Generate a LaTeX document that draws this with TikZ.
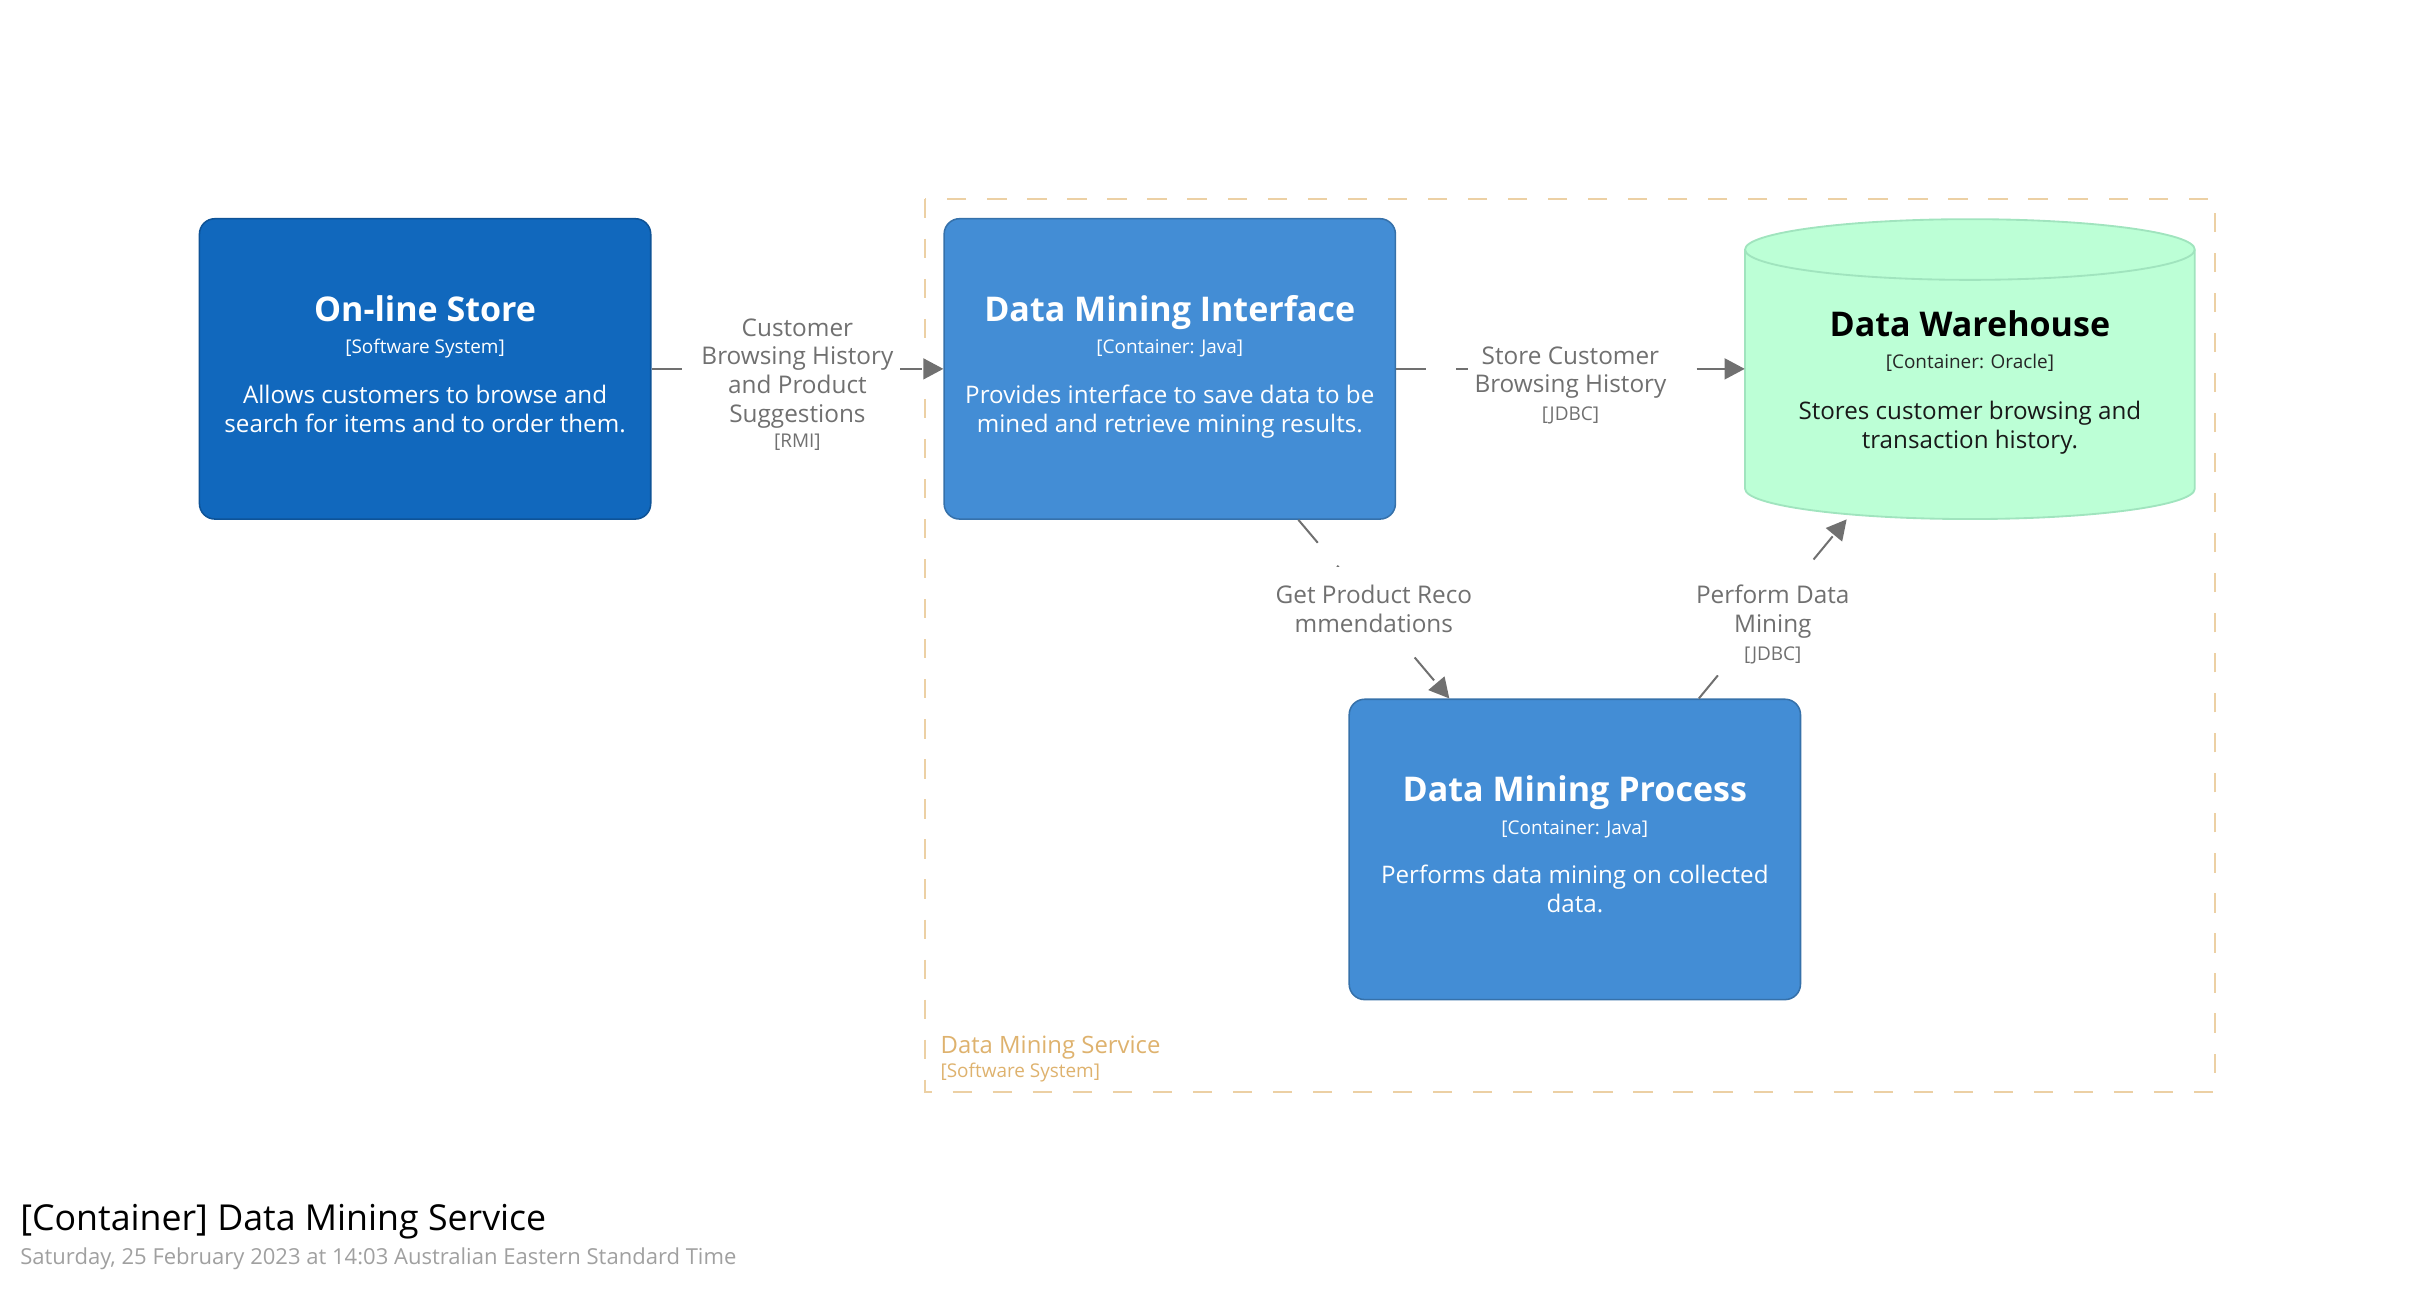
\documentclass[tikz,border=0pt]{standalone}
\usepackage{fontspec}
\setmainfont{Open Sans}
\usetikzlibrary{arrows.meta,calc}
\definecolor{sysblue}{HTML}{1168BD}
\definecolor{conblue}{HTML}{438DD5}
\definecolor{dbfill}{RGB}{188,255,214}
\definecolor{dbline}{RGB}{160,228,190}
\definecolor{edgegray}{HTML}{707070}
\definecolor{bndline}{RGB}{236,208,164}
\definecolor{bndtext}{RGB}{222,178,110}
\definecolor{subgray}{HTML}{A0A0A0}
\tikzset{
  elembox/.style={rectangle, rounded corners=10pt, minimum width=293pt, minimum height=195pt, inner sep=0pt, line width=1pt},
  sysbox/.style={elembox, fill=sysblue, draw=sysblue!80!black},
  conbox/.style={elembox, fill=conblue, draw=conblue!80!black},
  nametxt/.style={anchor=base, inner sep=0pt, font=\bfseries\fontsize{22.1}{26}\selectfont},
  metatxt/.style={anchor=base, inner sep=0pt, font=\fontsize{12.3}{15}\selectfont},
  desctxt/.style={anchor=base, inner sep=0pt, font=\fontsize{15.7}{18.8}\selectfont},
  edgeline/.style={draw=edgegray, line width=1.3pt, dash pattern=on 19.5pt off 19.5pt, -{Triangle[length=13pt,width=13.5pt]}},
  elabel/.style={anchor=base, fill=white, text=edgegray, inner sep=4pt, font=\fontsize{15.8}{18.6}\selectfont},
  bnd/.style={draw=bndline, line width=1.3pt, dash pattern=on 12.5pt off 13.5pt}
}
\newcommand{\techtxt}[1]{{\fontsize{12.3}{15}\selectfont #1}}
\begin{document}
\begin{tikzpicture}[x=1pt,y=-1pt]
\useasboundingbox (0,0) rectangle (1568,838.8);

% boundary
\draw[bnd] (600.5,129) rectangle (1438,709);
\node[anchor=base west, inner sep=0pt, text=bndtext, font=\fontsize{15.5}{18}\selectfont] (bndname) at (610.5,684) {Data Mining Service};
\node[anchor=base west, inner sep=0pt, text=bndtext, font=\fontsize{12.3}{15}\selectfont] (bndmeta) at (610.5,699.5) {[Software System]};

% elements
\node[sysbox] (os) at (276,239.5) {};
\node[conbox] (dmi) at (759.5,239.5) {};
\node[conbox] (dmp) at (1022.5,551.5) {};
\node[rectangle, minimum width=292pt, minimum height=195pt, inner sep=0pt] (dw) at (1279,239.5) {};

% cylinder
\path[fill=dbfill, draw=dbline, line width=1.2pt] (1133,162) -- (1133,317.3)
  arc[start angle=180, end angle=360, x radius=146pt, y radius=19.7pt] -- (1425,162)
  arc[start angle=0, end angle=180, x radius=146pt, y radius=19.7pt] -- cycle;
\draw[dbline, line width=1.2pt] (1133,162) arc[start angle=180, end angle=360, x radius=146pt, y radius=19.7pt];

% element texts
\node[nametxt, text=white] (osn) at ($(os.north)+(0,67)$) {On-line Store};
\node[metatxt, text=white] (osm) at ($(os.north)+(0,88)$) {[Software System]};
\node[desctxt, text=white] (osd) at ($(os.north)+(0,120.3)$) {\begin{tabular}[t]{@{}c@{}}Allows customers to browse and\\search for items and to order them.\end{tabular}};

\node[nametxt, text=white] (dmin) at ($(dmi.north)+(0,67)$) {Data Mining Interface};
\node[metatxt, text=white] (dmim) at ($(dmi.north)+(0,88)$) {[Container: Java]};
\node[desctxt, text=white] (dmid) at ($(dmi.north)+(0,120.3)$) {\begin{tabular}[t]{@{}c@{}}Provides interface to save data to be\\mined and retrieve mining results.\end{tabular}};

\node[nametxt, text=white] (dmpn) at ($(dmp.north)+(0,67)$) {Data Mining Process};
\node[metatxt, text=white] (dmpm) at ($(dmp.north)+(0,88)$) {[Container: Java]};
\node[desctxt, text=white] (dmpd) at ($(dmp.north)+(0,120.3)$) {\begin{tabular}[t]{@{}c@{}}Performs data mining on collected\\data.\end{tabular}};

\node[nametxt, text=black] (dwn) at ($(dw.north)+(0,76.5)$) {Data Warehouse};
\node[metatxt, text=black!85] (dwm) at ($(dw.north)+(0,97.3)$) {[Container: Oracle]};
\node[desctxt, text=black!90] (dwd) at ($(dw.north)+(0,130.3)$) {\begin{tabular}[t]{@{}c@{}}Stores customer browsing and\\transaction history.\end{tabular}};

% connectors
\draw[edgeline] (os.east) -- (dmi.west);
\node[elabel] (l1) at ($(os.east)!0.5!(dmi.west)+(0,-21.3)$) {\begin{tabular}[t]{@{}c@{}}Customer\\Browsing History\\and Product\\Suggestions\\[-2pt]\techtxt{[RMI]}\end{tabular}};

\draw[edgeline] (dmi.east) -- (dw.west);
\node[elabel] (l2) at ($(dmi.east)!0.5!(dw.west)+(0,-3)$) {\begin{tabular}[t]{@{}c@{}}Store Customer\\Browsing History\\[-0.8pt]\techtxt{[JDBC]}\end{tabular}};

\coordinate (e3s) at ($(dmi.south)+(83.5,0)$);
\coordinate (e3t) at ($(dmp.north)+(-81.5,0)$);
\draw[edgeline] (e3s) -- (e3t);
\node[elabel] (l3) at ($(e3s)!0.5!(e3t)+(0,-3.5)$) {\begin{tabular}[t]{@{}c@{}}\rule{0pt}{20pt}Get Product Reco\\mmendations\end{tabular}};

\coordinate (e4s) at ($(dmp.north)+(80.5,0)$);
\coordinate (e4t) at ($(dw.south)+(-80,0)$);
\draw[edgeline] (e4s) -- (e4t);
\node[elabel] (l4) at ($(e4s)!0.5!(e4t)+(0,-3.5)$) {\begin{tabular}[t]{@{}c@{}}Perform Data\\Mining\\[-0.5pt]\techtxt{[JDBC]}\end{tabular}};

% title
\node[anchor=base west, inner sep=0pt, font=\fontsize{23.2}{27}\selectfont, text=black] (title) at (13,799.2) {[Container] Data Mining Service};
\node[anchor=base west, inner sep=0pt, font=\fontsize{14.3}{17}\selectfont, text=subgray] (subtitle) at (13,821.2) {Saturday, 25 February 2023 at 14:03 Australian Eastern Standard Time};
\end{tikzpicture}
\end{document}
